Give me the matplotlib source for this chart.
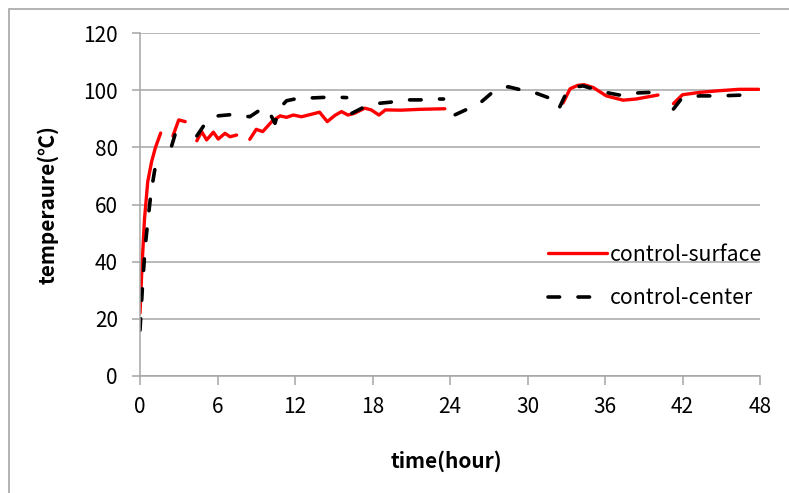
import numpy as np
import matplotlib.pyplot as plt
from matplotlib.patches import Rectangle

plt.rcParams['font.family'] = ['Noto Sans CJK KR', 'DejaVu Sans']

nan = np.nan

# surface sensor (red), gaps in the logging marked with nan
surface_hours = [0, 0.15, 0.35, 0.6, 0.9, 1.2, 1.6, nan,
                 2.55, 2.75, 3.0, 3.5, nan,
                 4.4, 4.77, 5.16, 5.68, 6.06, 6.58, 6.97, 7.48, nan,
                 8.5, 9.0, 9.5, 10.2, 10.84, 11.35, 11.87, 12.5, 13.3, 13.9, 14.5,
                 15.1, 15.6, 16.1, 16.6, 17.4, 17.9, 18.5, 19.0, 20.2, 21.7, 23.6, nan,
                 32.75, 33.3, 33.9, 34.4, 35.1, 36.1, 37.4, 38.4, 40.1, nan,
                 41.3, 42.0, 43.3, 44.8, 46.4, 47.9]
surface_temp = [22, 38, 55, 68, 75, 80, 85, nan,
                84, 86.5, 89.6, 89.0, nan,
                82.3, 85.5, 82.6, 85.3, 82.9, 84.9, 83.7, 84.3, nan,
                82.8, 86.3, 85.5, 89.0, 91.0, 90.5, 91.3, 90.7, 91.6, 92.3, 89.0,
                91.2, 92.5, 91.3, 91.9, 93.7, 93.1, 91.3, 93.1, 93.0, 93.3, 93.5, nan,
                95.5, 100.5, 101.7, 101.9, 100.9, 98.0, 96.5, 96.9, 98.3, nan,
                95.3, 98.4, 99.2, 99.8, 100.3, 100.3]

# center sensor (black dashed)
center_hours = [0, 0.2, 0.4, 0.6, 0.85, 1.1, 1.3, nan,
                2.45, 2.75, 3.0, nan,
                4.4, 5.0, 6.0, 7.2, 8.5, 9.3, 9.9, 10.45, 10.8, 11.35, 12.6, 13.4,
                14.9, 16.0, nan,
                16.4, 17.4, 18.5, 19.4, 20.6, 21.7, 22.9, 23.5, nan,
                24.4, 25.5, 26.45, 27.35, 28.5, 29.5, 30.7, 31.6, nan,
                32.5, 33.0, 33.6, 34.3, 35.2, 36.3, 37.1, 38.4, 39.4, nan,
                41.3, 41.9, 43.3, 44.8, 46.8]
center_temp = [16, 32, 45, 54, 64, 71, 76, nan,
               80.5, 85, 88, nan,
               84, 88, 91.0, 91.5, 90.7, 93.1, 93.3, 88.4, 93.7, 96.3, 97.5, 97.3,
               97.6, 97.4, nan,
               91.9, 94.2, 95.4, 95.8, 96.6, 96.6, 96.9, 96.9, nan,
               91.4, 93.7, 96.0, 99.5, 101.2, 100.1, 98.9, 97.4, nan,
               94.2, 99.0, 101.0, 101.5, 100.3, 99.0, 98.3, 99.0, 99.2, nan,
               93.4, 96.9, 98.0, 98.0, 98.3]

x_ticks = [0, 6, 12, 18, 24, 30, 36, 42, 48]
y_ticks = [0, 20, 40, 60, 80, 100, 120]

fig = plt.figure(figsize=(7.89, 4.93), dpi=100)
ax = fig.add_axes([140 / 789, 1 - 376 / 493, 620 / 789, 343 / 493])

# outer frame of the picture
fig.patches.append(Rectangle((9 / 789, -0.1), 1.2, 1.1 - 9 / 493,
                             transform=fig.transFigure, fill=False,
                             edgecolor='#a6a6a6', linewidth=1.2))

ax.plot(surface_hours, surface_temp, color='red', linewidth=2.4,
        label='control-surface', solid_capstyle='round')
ax.plot(center_hours, center_temp, color='black', linewidth=2.6,
        linestyle=(0, (3.2, 5.1)), dash_capstyle='round',
        label='control-center')

ax.set_xlim(0, 48)
ax.set_ylim(0, 120)
ax.set_xticks(x_ticks)
ax.set_yticks(y_ticks)
ax.grid(axis='y', color='#a6a6a6', linewidth=1.1)
ax.set_axisbelow(True)
for s in ['top', 'right']:
    ax.spines[s].set_visible(False)
for s in ['left', 'bottom']:
    ax.spines[s].set_color('#a6a6a6')
    ax.spines[s].set_linewidth(1.1)
ax.tick_params(axis='x', length=6.5, width=1.1, color='#a6a6a6', pad=8, labelsize=15)
ax.tick_params(axis='y', length=6, width=1.1, color='#a6a6a6', pad=10, labelsize=15)

ax.set_xlabel('time(hour)', fontsize=15, fontweight='bold')
ax.set_ylabel('temperaure(℃)', fontsize=15, fontweight='bold')
ax.xaxis.set_label_coords(0.495, -0.216)
ax.yaxis.set_label_coords(-0.131, 0.5)

ax.legend(loc='center left', bbox_to_anchor=(0.658, 0.29), frameon=False,
          fontsize=15.3, handlelength=2.8, handletextpad=0.1,
          labelspacing=1.0, borderpad=0, borderaxespad=0)

fig.savefig('out.png', dpi=100)
